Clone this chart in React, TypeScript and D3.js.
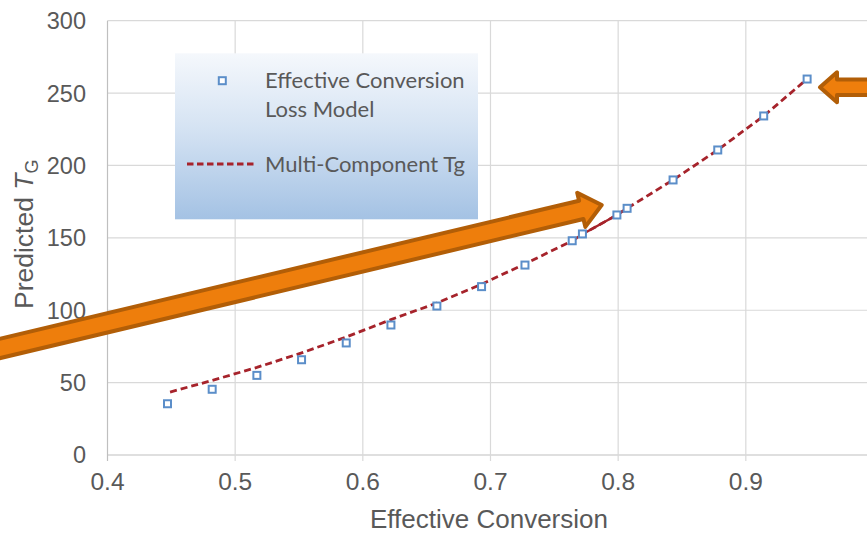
import React from 'react';
import * as d3 from 'd3';

const X_TICKS = [0.4, 0.5, 0.6, 0.7, 0.8, 0.9, 1.0];
const X_TICK_LABELS = ['0.4', '0.5', '0.6', '0.7', '0.8', '0.9', '1'];
const Y_TICKS = [0, 50, 100, 150, 200, 250, 300];

// Effective Conversion Loss Model (markers)
const MODEL_X = [0.447, 0.482, 0.517, 0.552, 0.587, 0.622, 0.658, 0.693, 0.727, 0.764, 0.772, 0.799, 0.807, 0.843, 0.878, 0.914, 0.948];
const MODEL_Y = [35.4, 45.4, 55.0, 65.8, 77.4, 89.8, 102.9, 116.3, 131.2, 148.0, 152.7, 165.8, 170.4, 190.0, 210.7, 234.2, 259.7];

// Multi-Component Tg (dashed line)
const TG_X = [0.449, 0.482, 0.517, 0.552, 0.587, 0.622, 0.658, 0.693, 0.727, 0.764, 0.772, 0.799, 0.807, 0.843, 0.878, 0.914, 0.948];
const TG_Y = [43.5, 51.5, 60.5, 70.5, 81.5, 93.5, 105.0, 118.0, 132.0, 148.0, 152.5, 165.8, 170.4, 190.0, 210.7, 234.2, 259.7];
const TG_SOLID_FROM = 0.764;
const TG_SOLID_TO = 0.807;

const LEGEND_LABELS = ['Effective Conversion', 'Loss Model', 'Multi-Component Tg'];
const X_TITLE = 'Effective Conversion';

const W = 867;
const H = 533;

export default function App() {
  const x = d3.scaleLinear().domain([0.4, 1.0]).range([107.5, 873.5]);
  const y = d3.scaleLinear().domain([0, 300]).range([455, 20.7]);

  const tg = TG_X.map((v, i) => ({ x: v, y: TG_Y[i] }));
  const model = MODEL_X.map((v, i) => ({ x: v, y: MODEL_Y[i] }));
  const line = d3.line<{ x: number; y: number }>().x(d => x(d.x)).y(d => y(d.y));
  const solidPart = tg.filter(d => d.x >= TG_SOLID_FROM && d.x <= TG_SOLID_TO);

  const axisFont = '"Liberation Sans", Arial, sans-serif';
  const legendFont = 'Lato, "Open Sans", sans-serif';
  const textColor = '#595959';

  const arrowFill = '#ee7e0c';
  const arrowStroke = '#b25e07';

  const arrowPath = (len: number, L: number, t: number, h: number) =>
    `M${-len},${-t} L${-L},${-t} L${-L},${-h} L0,0 L${-L},${h} L${-L},${t} L${-len},${t} Z`;

  return (
    <svg width={W} height={H} style={{ position: 'absolute', left: 0, top: 0, background: '#fff' }}>
      <defs>
        <linearGradient id="legGrad" x1="0" y1="0" x2="0" y2="1">
          <stop offset="0%" stopColor="#f5f8fc" />
          <stop offset="45%" stopColor="#d5e3f3" />
          <stop offset="100%" stopColor="#a4c2e4" />
        </linearGradient>
      </defs>

      {/* gridlines */}
      {Y_TICKS.map(t => (
        <line key={'gy' + t} x1={x(0.4)} x2={x(1.0)} y1={y(t)} y2={y(t)}
          stroke={t === 0 ? '#bfbfbf' : '#d9d9d9'} strokeWidth={1.2} />
      ))}
      {X_TICKS.map(t => (
        <line key={'gx' + t} x1={x(t)} x2={x(t)} y1={y(300)} y2={y(0) + 6}
          stroke={t === 0.4 ? '#bfbfbf' : '#d9d9d9'} strokeWidth={1.2} />
      ))}

      {/* tick labels */}
      {Y_TICKS.map(t => (
        <text key={'ly' + t} x={86} y={y(t)} dy="0.36em" textAnchor="end"
          fontFamily={axisFont} fontSize={23.5} fill={textColor}>{t}</text>
      ))}
      {X_TICKS.map((t, i) => (
        <text key={'lx' + t} x={x(t)} y={490} textAnchor="middle"
          fontFamily={axisFont} fontSize={24.5} fill={textColor}>{X_TICK_LABELS[i]}</text>
      ))}

      {/* axis titles */}
      <text x={489} y={528} textAnchor="middle" fontFamily={axisFont} fontSize={26} fill={textColor}>{X_TITLE}</text>
      <text transform="translate(33,309) rotate(-90)" fontFamily={axisFont} fontSize={26.5} fill={textColor}>
        Predicted <tspan fontStyle="italic">T</tspan><tspan fontSize={18} dy={5}>G</tspan>
      </text>

      {/* legend */}
      <rect x={175} y={53.3} width={303} height={166} fill="url(#legGrad)" />
      <rect x={218.8} y={77.2} width={7} height={7} fill="#fff" stroke="#5b8ec9" strokeWidth={2} />
      <text x={265} y={88} fontFamily={legendFont} fontSize={22} fill={textColor}>{LEGEND_LABELS[0]}</text>
      <text x={265} y={116.5} fontFamily={legendFont} fontSize={22} fill={textColor}>{LEGEND_LABELS[1]}</text>
      <line x1={187} x2={257} y1={164} y2={164} stroke="#a6232b" strokeWidth={2.8} strokeDasharray="6.5,3.5" />
      <text x={265} y={171.5} fontFamily={legendFont} fontSize={22} fill={textColor}>{LEGEND_LABELS[2]}</text>

      {/* series */}
      <path d={line(tg) || ''} fill="none" stroke="#a6232b" strokeWidth={2.8} strokeDasharray="7,4" />
      <path d={line(solidPart) || ''} fill="none" stroke="#a6232b" strokeWidth={2.4} />
      {model.map((d, i) => (
        <rect key={'m' + i} x={x(d.x) - 3.5} y={y(d.y) - 3.5} width={7} height={7}
          fill="#fff" stroke="#5b8ec9" strokeWidth={2} />
      ))}

      {/* arrows */}
      <g transform="translate(601.7,205) rotate(-13.41)">
        <path d={arrowPath(700, 21, 9.4, 17.5)} fill={arrowFill} stroke={arrowStroke} strokeWidth={4} strokeLinejoin="round" />
      </g>
      <g transform="translate(820,87.3) rotate(180)">
        <path d={arrowPath(120, 17, 7.8, 15)} fill={arrowFill} stroke={arrowStroke} strokeWidth={4} strokeLinejoin="round" />
      </g>
    </svg>
  );
}
